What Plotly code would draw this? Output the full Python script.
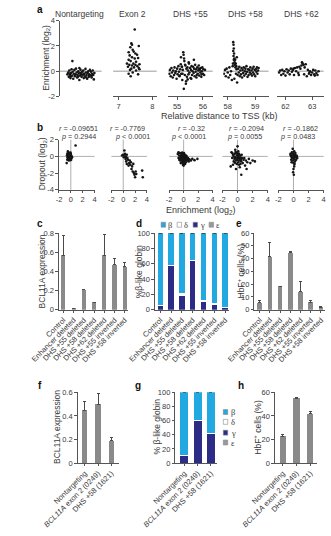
import plotly.graph_objects as go

# ---------------- data ----------------
a_titles = ["Nontargeting", "Exon 2", "DHS +55", "DHS +58", "DHS +62"]

nt_pts = [(0.02,-0.25),(0.05,-0.1),(0.07,-0.45),(0.09,0.05),(0.11,-0.3),(0.13,-0.55),(0.15,-0.15),(0.17,0.15),(0.19,-0.35),(0.21,-0.05),
          (0.23,-0.6),(0.25,-0.2),(0.27,0.1),(0.29,-0.4),(0.31,-0.25),(0.33,0.2),(0.35,-0.1),(0.37,-0.5),(0.39,-0.3),(0.41,0.0),
          (0.43,-0.15),(0.45,-0.7),(0.47,-0.35),(0.49,0.12),(0.51,-0.25),(0.53,-0.45),(0.55,-0.05),(0.57,-0.3),(0.59,0.05),(0.61,-0.55),
          (0.63,-0.2),(0.65,-0.4),(0.67,0.18),(0.69,-0.1),(0.71,-0.3),(0.73,-0.6),(0.75,-0.15),(0.77,0.0),(0.79,-0.45),(0.81,-0.25),
          (0.83,0.1),(0.85,-0.35),(0.87,-0.05),(0.89,-0.5),(0.91,-0.2),(0.93,0.05),(0.95,-0.3),(0.97,-0.65),(0.99,-0.15),(0.2,0.8),
          (0.1,-0.2),(0.3,-0.35),(0.5,-0.15),(0.7,-0.5),(0.9,-0.35),(0.4,-0.45),(0.6,-0.2),(0.8,-0.3),(0.15,-0.4),(0.45,0.25)]

ex2_pts = [(7.48,3.3),(7.38,2.2),(7.4,2.1),(7.6,2.0),(7.35,1.9),(7.42,1.7),(7.3,1.5),(7.45,1.55),(7.5,1.4),(7.33,1.25),
           (7.55,1.3),(7.4,1.1),(7.48,1.0),(7.58,1.05),(7.3,0.9),(7.36,0.8),(7.52,0.75),(7.44,0.6),(7.62,0.55),(7.32,0.5),
           (7.4,0.45),(7.5,0.5),(7.56,0.4),(7.28,0.35),(7.46,0.3),(7.38,0.2),(7.6,0.25),(7.34,0.1),(7.52,0.05),(7.42,-0.1),
           (7.3,-0.2),(7.58,-0.25),(7.36,-0.4),(7.62,0.15),(7.25,0.6)]

dhs55_pts = [(54.70,-0.2),(54.72,0.1),(54.75,-0.4),(54.78,0.25),(54.80,-0.1),(54.83,-0.5),(54.85,0.05),(54.88,-0.3),(54.90,0.3),(54.93,-0.15),
             (54.95,0.0),(54.98,-0.6),(55.00,0.2),(55.02,-0.25),(55.05,0.4),(55.07,-0.05),(55.10,-0.35),(55.12,0.15),(55.14,0.55),(55.16,-0.2),
             (55.18,0.35),(55.20,-0.7),(55.22,0.1),(55.24,1.5),(55.26,-1.4),(55.28,0.8),(55.30,-0.3),(55.32,0.45),(55.34,-1.0),(55.36,0.2),
             (55.38,-0.45),(55.40,0.3),(55.42,0.05),(55.44,-0.25),(55.46,0.6),(55.48,-0.1),(55.50,0.25),(55.52,-0.55),(55.54,0.1),(55.56,0.4),
             (55.58,-0.3),(55.60,0.0),(55.62,0.35),(55.64,-0.15),(55.66,0.2),(55.68,-0.4),(55.70,0.5),(55.72,-0.05),(55.74,0.15),(55.76,-0.3),
             (55.78,0.3),(55.80,-0.2),(55.82,0.05),(55.84,0.45),(55.86,-0.35),(55.88,0.1),(55.90,-0.1),(55.92,0.25),(55.94,-0.45),(55.96,0.0),
             (55.98,0.3),(56.00,-0.2),(56.02,0.15),(56.05,-0.3),(56.08,0.1),(55.15,1.1),(55.25,1.3),(55.35,-0.8),(55.45,0.7),(55.55,-0.6),
             (55.65,0.9),(55.75,-0.5),(55.85,0.2),(55.95,-0.25),(55.21,-0.2),(55.31,0.5),(55.41,-0.65),(55.27,1.0),(55.19,0.35),(55.09,-0.4)]

dhs58_pts = [(57.86,-0.2),(57.9,0.1),(57.93,-0.4),(57.96,0.2),(58.0,-0.1),(58.03,-0.5),(58.06,0.3),(58.09,-0.3),(58.12,0.0),(58.15,-0.7),
             (58.18,0.4),(58.2,2.3),(58.21,2.1),(58.22,1.8),(58.2,1.6),(58.23,1.4),(58.21,1.2),(58.24,1.0),(58.22,0.9),(58.25,0.7),
             (58.19,0.6),(58.26,0.5),(58.28,0.3),(58.3,-0.2),(58.32,0.15),(58.34,-0.9),(58.36,-0.3),(58.38,0.2),(58.4,-0.1),(58.42,0.35),
             (58.44,-0.4),(58.46,0.05),(58.48,-0.25),(58.5,0.25),(58.52,-0.5),(58.54,0.1),(58.56,-0.15),(58.58,0.3),(58.6,-0.35),(58.62,0.0),
             (58.64,0.2),(58.66,-0.2),(58.68,0.4),(58.7,-0.05),(58.72,-0.45),(58.74,0.15),(58.76,-0.3),(58.78,0.1),(58.8,-0.1),(58.82,0.3),
             (58.84,-0.2),(58.86,0.05),(58.88,-0.35),(58.9,0.2),(58.92,-0.1),(58.94,0.35),(58.96,-0.25),(58.98,0.1),(59.0,-0.4),(59.02,0.15),
             (59.04,-0.05),(59.06,0.3),(59.08,-0.2),(59.1,0.05),(59.12,0.25),(58.27,0.9),(58.29,0.6),(58.31,0.4),(58.33,1.1),(58.24,-0.6)]

dhs62_pts = [(61.76,-0.1),(61.8,0.05),(61.84,-0.3),(61.88,0.1),(61.92,-0.2),(61.96,0.0),(62.0,-0.35),(62.04,0.15),(62.08,-0.1),(62.12,0.05),
             (62.16,-0.25),(62.2,0.2),(62.24,-0.05),(62.28,0.1),(62.32,-0.3),(62.36,0.25),(62.4,0.0),(62.44,0.3),(62.48,-0.15),(62.52,0.35),
             (62.56,0.2),(62.6,0.45),(62.64,0.6),(62.68,0.5),(62.72,0.3),(62.76,0.55),(62.8,-0.4),(62.84,0.1),(62.88,-0.2),(62.92,0.0),
             (62.96,-0.3),(63.0,-0.1),(63.04,0.1),(63.08,-0.25),(63.12,0.05),(63.16,-0.15),(63.2,-0.3),(63.24,0.0),(62.5,-0.3),(62.7,-0.25),
             (62.9,-0.1),(63.1,-0.35),(62.3,0.2),(62.62,0.7)]

a_xticks = [None, [7, 8], [55, 56], [58, 59], [62, 63]]

# panel b: (enrichment, dropout)
b_nt = [(-0.6,0.3),(-0.5,-0.2),(-0.45,0.5),(-0.4,0.0),(-0.35,-0.5),(-0.3,0.2),(-0.25,-0.1),(-0.2,0.4),(-0.15,-0.3),(-0.1,0.1),
        (-0.05,-0.2),(0.0,0.3),(0.05,-0.4),(0.1,0.0),(0.15,-0.15),(-0.55,-0.1),(-0.4,0.35),(-0.3,-0.25),(-0.2,0.05),(-0.1,-0.45),
        (0.0,0.15),(-0.65,0.1),(-0.5,0.6),(-0.35,-0.05),(-0.25,0.25),(-0.15,0.0),(-0.05,0.45),(0.05,0.1),(0.2,-0.1),(-0.7,-0.8),
        (-0.45,-0.35),(-0.3,0.1),(-0.2,-0.2),(-0.1,0.2),(0.0,-0.1),(0.8,1.3),(-0.6,-0.4),(-0.4,-0.15),(-0.25,0.4),(-0.05,-0.3)]
b_ex2 = [(0.0,0.2),(0.1,-0.1),(0.2,0.7),(0.3,0.0),(0.4,-0.3),(0.5,-0.1),(0.6,0.2),(0.5,-0.6),(0.8,-0.4),(1.0,-0.8),
         (1.1,-0.5),(1.2,-1.0),(1.3,-0.7),(1.5,-1.2),(1.6,-1.8),(1.7,-0.9),(1.8,-2.0),(2.0,-2.5),(2.1,-1.8),(2.2,-2.1),
         (1.4,-1.5),(0.9,-1.1),(3.2,-1.7),(3.3,-2.5),(0.7,-0.2),(0.3,0.3),(-0.2,0.1),(1.9,-2.2),(0.6,-0.9)]
b_55 = [(-0.8,0.3),(-0.7,-0.2),(-0.6,0.1),(-0.5,-0.5),(-0.5,0.4),(-0.4,-0.1),(-0.4,-0.8),(-0.3,0.2),(-0.3,-0.4),(-0.2,0.0),
        (-0.2,-0.7),(-0.2,0.45),(-0.1,-0.3),(-0.1,0.15),(-0.1,-1.0),(0.0,-0.5),(0.0,0.3),(0.0,-0.15),(0.1,-0.6),(0.1,0.1),
        (0.1,-0.25),(0.2,-0.9),(0.2,0.2),(0.2,-0.4),(0.3,-0.1),(0.3,-0.7),(0.4,0.05),(0.4,-0.5),(0.5,-0.3),(0.6,-0.2),
        (0.7,-0.6),(0.8,-0.35),(1.0,-0.5),(1.2,-0.3),(1.5,-0.45),(1.9,-0.3),(-0.6,-0.4),(-0.35,0.35),(-0.25,-0.55),(-0.15,-0.2),
        (-0.05,0.05),(0.05,-0.35),(0.15,-0.05),(0.25,0.1),(0.35,-0.3),(-0.45,-0.25),(-0.05,-0.8),(0.05,0.4),(0.45,-0.15),(-0.7,0.5),
        (0.6,-0.5),(-0.3,-0.3),(0.0,-1.1),(-0.5,0.05)]
b_58 = [(-0.8,0.5),(-0.7,-0.2),(-0.6,0.2),(-0.5,-0.6),(-0.4,0.3),(-0.4,-0.3),(-0.3,0.8),(-0.3,-0.1),(-0.2,0.4),(-0.2,-0.5),
        (-0.1,0.1),(-0.1,-0.9),(0.0,0.2),(0.0,-0.4),(0.0,1.2),(0.1,-0.2),(0.1,-0.7),(0.2,0.3),(0.2,-1.0),(0.3,-0.3),
        (0.3,-1.3),(0.4,0.1),(0.5,-0.6),(0.5,-2.2),(0.6,-0.2),(0.7,-0.8),(0.8,-0.4),(1.0,-1.1),(1.1,-0.5),(1.3,-0.7),
        (1.5,-0.3),(1.7,-0.8),(2.0,-0.5),(2.3,-0.6),(-0.9,-1.2),(-0.6,-1.0),(-0.5,0.0),(-0.25,0.55),(-0.15,-0.25),(-0.05,0.4),
        (0.05,-0.1),(0.15,0.05),(0.25,-0.5),(0.35,-0.15),(0.45,-0.4),(-0.35,-0.75),(0.55,0.2),(-0.7,0.4),(0.9,-0.2),(1.2,-1.5),
        (0.1,0.6),(-0.2,-1.5),(0.4,-0.9)]
b_62 = [(-0.4,0.3),(-0.3,0.0),(-0.3,-0.4),(-0.2,0.5),(-0.2,-0.2),(-0.1,0.9),(-0.1,0.1),(-0.1,-0.5),(0.0,0.3),(0.0,-0.1),
        (0.0,-0.8),(0.1,0.6),(0.1,0.0),(0.1,-0.3),(0.2,0.2),(0.2,-0.6),(0.3,-0.1),(0.4,0.1),(0.5,-0.2),(0.0,-1.5),
        (-0.05,-1.9),(0.05,-2.2),(0.1,-1.2),(-0.15,0.4),(0.25,0.4),(-0.25,-0.7),(0.15,-0.9),(0.35,-0.4),(-0.35,0.15),(0.45,0.0)]
b_r = ["-0.09651", "-0.7769", "-0.32", "-0.2094", "-0.1862"]
b_p = ["= 0.2944", "< 0.0001", "< 0.0001", "= 0.0055", "= 0.0483"]

cde_cats = ["Control", "Enhancer deleted", "DHS +55 deleted", "DHS +58 deleted",
            "DHS +62 deleted", "DHS +55 inverted", "DHS +58 inverted"]
c_vals = [0.57, 0.01, 0.21, 0.08, 0.57, 0.47, 0.45]
c_err = [0.20, 0.0, 0.0, 0.0, 0.22, 0.06, 0.04]
d_eps = [0, 0, 0, 0, 0, 0, 0]
d_gamma = [5, 58, 19, 64, 11, 7, 3]
d_delta = [1.5, 1, 2.5, 1, 1.5, 1.5, 1]
d_beta = [93.5, 41, 78.5, 35, 87.5, 91.5, 96]
d_beta_err = [1, 1, 0.5, 1, 1, 0.5, 1]
e_vals = [5.5, 41.5, 18.5, 44.5, 14, 6, 2]
e_err = [1.5, 11, 0, 1, 8, 1.5, 0.3]

fgh_cats = ["Nontargeting", "<i>BCL11A</i> exon 2 (0249)", "DHS +58 (1621)"]
f_vals = [0.45, 0.50, 0.19]
f_err = [0.07, 0.09, 0.03]
g_eps = [0, 0, 0]
g_gamma = [10, 60, 42]
g_delta = [1, 1, 1]
g_beta = [89, 39, 57]
g_beta_err = [1, 1.5, 1]
h_vals = [23, 55, 42]
h_err = [1, 1, 1.5]

# ---------------- styling ----------------
W, H = 331, 536
FONT = "Liberation Sans, Arial, sans-serif"
SERIF = "Liberation Serif, Times New Roman, serif"
TXT = "#3a3a3a"
AXC = "#555555"
BARC = "#8a8a8a"
BETA = "#22A9E1"
GAMMA = "#2C2C86"
EPS = "#999999"


def X(px):
    return px / W


def Y(py):
    return 1 - py / H


def nm(n):
    return ("" if n == 1 else str(n))


layout = {}


def base():
    return dict(showgrid=False, zeroline=False, linecolor=AXC, linewidth=1, tickcolor=AXC,
                ticklen=2.5, tickwidth=1, tickfont=dict(size=7.5, color=TXT, family=FONT),
                fixedrange=True)


def setax(n, xd, yd, xr, yr, xkw, ykw):
    xa = base(); xa.update(domain=[X(xd[0]), X(xd[1])], range=xr, anchor="y" + nm(n)); xa.update(xkw)
    ya = base(); ya.update(domain=[Y(yd[1]), Y(yd[0])], range=yr, anchor="x" + nm(n)); ya.update(ykw)
    layout["xaxis" + nm(n)] = xa
    layout["yaxis" + nm(n)] = ya


fig = go.Figure()
shapes = []
anns = []


def ann(text, px, py, size=8, xa="center", ya="middle", angle=0, family=FONT, color=TXT):
    anns.append(dict(text=text, x=X(px), y=Y(py), xref="paper", yref="paper", showarrow=False,
                     xanchor=xa, yanchor=ya, textangle=angle, borderpad=0,
                     font=dict(size=size, family=family, color=color)))


def scatter(pts, n):
    fig.add_trace(go.Scatter(x=[p[0] for p in pts], y=[p[1] for p in pts], mode="markers",
                             marker=dict(size=2.6, color="#151515", line=dict(width=0)),
                             xaxis="x" + nm(n), yaxis="y" + nm(n), showlegend=False, hoverinfo="skip"))


# ---------------- panel a ----------------
a_pts = [nt_pts, ex2_pts, dhs55_pts, dhs58_pts, dhs62_pts]
a_xd = [(28, 75), (88, 137), (150, 200), (212, 263), (273, 325)]
a_xr = [[-0.25, 1.25], [6.842, 8.13], [54.655, 56.379], [57.839, 59.484], [61.7, 63.433]]
a_tc = [50, 110, 175, 237, 300]
for i in range(5):
    n = i + 1
    if i == 0:
        xkw = dict(visible=False)
        ykw = dict(showline=True, ticks="outside", tickvals=[-2, 0, 2, 4], ticktext=["-2", "0", "2", "4"])
    else:
        xkw = dict(showline=True, ticks="outside", tickvals=a_xticks[i], ticktext=[str(t) for t in a_xticks[i]])
        ykw = dict(visible=False)
    setax(n, a_xd[i], (17, 94), a_xr[i], [-2, 4], xkw, ykw)
    shapes.append(dict(type="line", xref="x" + nm(n) + " domain", x0=0, x1=1, yref="y" + nm(n), y0=0, y1=0,
                       line=dict(color="#9a9a9a", width=1), layer="below"))
    scatter(a_pts[i], n)
    ann(a_titles[i], a_tc[i], 10, size=8.5)
ann("Enrichment (log<sub>2</sub>)", 12, 55, size=8.5, angle=-90)
ann("Relative distance to TSS (kb)", 207, 114, size=9)

# ---------------- panel b ----------------
b_pts = [b_nt, b_ex2, b_55, b_58, b_62]
b_xd = [(27, 67), (86, 126), (151, 200), (211, 262), (274, 325)]
b_rc = [49, 104, 176, 238, 299]
b_pc = [49, 110, 173, 236, 296]
for i in range(5):
    n = 6 + i
    xkw = dict(showline=True, ticks="outside", ticklen=2, tickvals=[-2, 0, 2, 4], ticktext=["-2", "0", "2", "4"])
    if i == 0:
        ykw = dict(showline=True, ticks="outside", tickvals=[-4, -2, 0, 2], ticktext=["-4", "-2", "0", "2"])
    else:
        ykw = dict(visible=False)
    setax(n, b_xd[i], (138, 189), [-2, 4], [-4, 2], xkw, ykw)
    shapes.append(dict(type="line", xref="x" + nm(n) + " domain", x0=0, x1=1, yref="y" + nm(n), y0=0, y1=0,
                       line=dict(color="#b0b0b0", width=1), layer="below"))
    shapes.append(dict(type="line", xref="x" + nm(n), x0=0, x1=0, yref="y" + nm(n) + " domain", y0=0, y1=1,
                       line=dict(color="#b0b0b0", width=1), layer="below"))
    scatter(b_pts[i], n)
    ann("<i>r</i> = " + b_r[i], b_rc[i], 126.5, size=7.2)
    ann("<i>p</i> " + b_p[i], b_pc[i], 135, size=7.2)
ann("Dropout (log<sub>2</sub>)", 8, 163, size=8.5, angle=-90)
ann("Enrichment (log<sub>2</sub>)", 187, 210, size=9)


# ---------------- bar panels ----------------
def bar(cats, vals, err, n, width, color=BARC, line=None):
    kw = {}
    if err is not None:
        kw["error_y"] = dict(type="data", array=err, arrayminus=[0] * len(err), symmetric=False,
                             color="#4a4a4a", thickness=1, width=1.5)
    fig.add_trace(go.Bar(x=cats, y=vals, width=width, xaxis="x" + nm(n), yaxis="y" + nm(n),
                         marker=dict(color=color, line=line or dict(width=0)), showlegend=False,
                         hoverinfo="skip", **kw))


def cat_x():
    return dict(type="category", showline=True, ticks="outside", tickangle=-45, ticklen=2)


# c
setax(11, (27, 105), (233, 311), [-0.43, 6.35], [0, 0.8], cat_x(),
      dict(showline=True, ticks="outside", tickvals=[0, 0.2, 0.4, 0.6, 0.8], ticktext=["0", "0.2", "0.4", "0.6", "0.8"]))
bar(cde_cats, c_vals, c_err, 11, 0.4)
ann("BCL11A expression", 8, 272, size=8.5, angle=-90)

# d
setax(12, (135, 218), (233, 311), [-0.5, 6.33], [0, 100], cat_x(),
      dict(showline=True, ticks="outside", tickvals=[0, 20, 40, 60, 80, 100]))
bar(cde_cats, d_eps, None, 12, 0.5, color=EPS)
bar(cde_cats, d_gamma, None, 12, 0.5, color=GAMMA)
bar(cde_cats, d_delta, None, 12, 0.5, color="#ffffff")
bar(cde_cats, d_beta, d_beta_err, 12, 0.5, color=BETA)
ann("%β-like globin", 118, 272, size=8.5, angle=-90)

# e
setax(13, (247, 326), (233, 311), [-0.52, 6.35], [0, 60], cat_x(),
      dict(showline=True, ticks="outside", tickvals=[0, 10, 20, 30, 40, 50, 60]))
bar(cde_cats, e_vals, e_err, 13, 0.45)
ann("HbF<sup>+</sup> cells (%)", 232, 272, size=8.5, angle=-90)

# f
setax(14, (48, 95), (395, 467), [-0.53, 2.6], [0, 0.6], cat_x(),
      dict(showline=True, ticks="outside", tickvals=[0, 0.2, 0.4, 0.6], ticktext=["0", "0.2", "0.4", "0.6"]))
bar(fgh_cats, f_vals, f_err, 14, 0.4)
ann("BCL11A expression", 25, 430, size=8.5, angle=-90)

# g
setax(15, (158, 205), (395, 467), [-0.67, 2.47], [0, 100], cat_x(),
      dict(showline=True, ticks="outside", tickvals=[0, 20, 40, 60, 80, 100]))
bar(fgh_cats, g_eps, None, 15, 0.6, color=EPS)
bar(fgh_cats, g_gamma, None, 15, 0.6, color=GAMMA)
bar(fgh_cats, g_delta, None, 15, 0.6, color="#ffffff")
bar(fgh_cats, g_beta, g_beta_err, 15, 0.6, color=BETA)
ann("% β-like globin", 137, 430, size=8.5, angle=-90)

# h
setax(16, (270, 318), (395, 467), [-0.58, 2.52], [0, 60], cat_x(),
      dict(showline=True, ticks="outside", tickvals=[0, 20, 40, 60]))
bar(fgh_cats, h_vals, h_err, 16, 0.45)
ann("HbF<sup>+</sup> cells (%)", 251, 430, size=8.5, angle=-90)

# ---------------- legends (d and g) ----------------
leg_names = ["β", "δ", "γ", "ε"]
leg_cols = [BETA, "#ffffff", GAMMA, EPS]
d_leg_x = [142, 160, 178, 196]
for i in range(4):
    shapes.append(dict(type="rect", xref="paper", yref="paper", x0=X(d_leg_x[i]), x1=X(d_leg_x[i] + 5),
                       y0=Y(227), y1=Y(222), fillcolor=leg_cols[i], line=dict(color="#888888", width=0.6)))
    ann(leg_names[i], d_leg_x[i] + 7, 224.5, size=8.5, xa="left", family=SERIF)
g_leg_y = [415, 425, 436, 446]
for i in range(4):
    shapes.append(dict(type="rect", xref="paper", yref="paper", x0=X(212), x1=X(217),
                       y0=Y(g_leg_y[i] + 2.5), y1=Y(g_leg_y[i] - 2.5), fillcolor=leg_cols[i],
                       line=dict(color="#888888", width=0.6)))
    ann(leg_names[i], 220, g_leg_y[i], size=8.5, xa="left", family=SERIF)

# ---------------- panel letters ----------------
for lab, px, py in [("a", 6, 6), ("b", 6, 126), ("c", 6, 223), ("d", 117, 223), ("e", 230, 223),
                    ("f", 6, 388), ("g", 116, 388), ("h", 232, 388)]:
    ann("<b>" + lab + "</b>", px, py, size=10, color="#111111")

layout.update(dict(width=W, height=H, autosize=False, margin=dict(l=0, r=0, t=0, b=0, pad=0),
                   paper_bgcolor="white", plot_bgcolor="white", barmode="stack",
                   showlegend=False, shapes=shapes, annotations=anns,
                   font=dict(family=FONT, color=TXT, size=8)))
fig.update_layout(**layout)
fig.write_html("out.html")
